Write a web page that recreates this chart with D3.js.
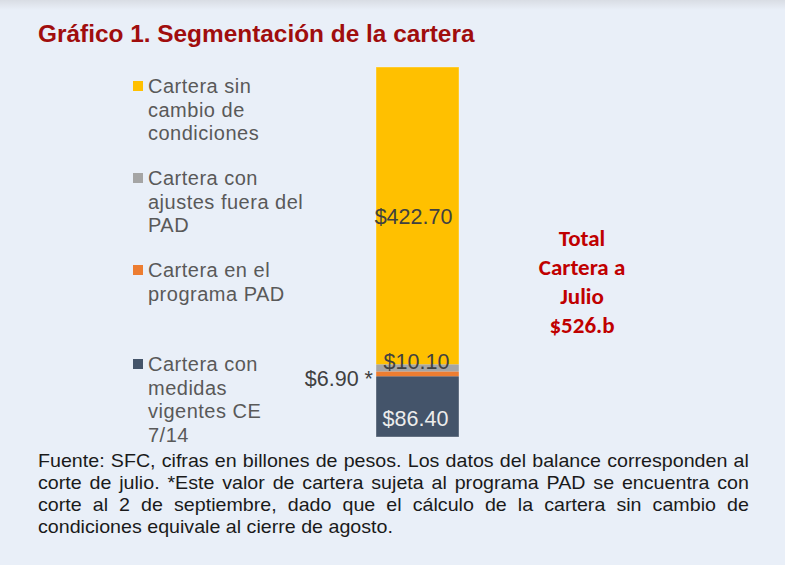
<!DOCTYPE html>
<html><head><meta charset="utf-8">
<script src="https://cdn.jsdelivr.net/npm/d3@7/dist/d3.min.js"></script>
<style>
html,body{margin:0;padding:0;background:#e9eff8;}
svg{display:block;}
</style></head>
<body>
<svg id="chart" width="785" height="565"></svg>
<script>
// ---- data ----
const categories = ["Cartera con medidas vigentes CE 7/14", "Cartera en el programa PAD", "Cartera con ajustes fuera del PAD", "Cartera sin cambio de condiciones"];
const values = [86.40, 6.90, 10.10, 422.70];
const valueLabels = ["$86.40", "$6.90 *", "$10.10", "$422.70"];
const colors = ["#44546a", "#ed7d31", "#a5a5a5", "#ffc000"];
const legendLines = [
  ["Cartera sin", "cambio de", "condiciones"],
  ["Cartera con", "ajustes fuera del", "PAD"],
  ["Cartera en el", "programa PAD"],
  ["Cartera con", "medidas", "vigentes CE", "7/14"]
];
const legendColorIdx = [3, 2, 1, 0];
const title = "Gráfico 1. Segmentación de la cartera";
const totalLines = ["Total", "Cartera a", "Julio", "$526.b"];
const footLines = [
  "Fuente: SFC, cifras en billones de pesos. Los datos del balance corresponden al",
  "corte de julio. *Este valor de cartera sujeta al programa PAD se encuentra con",
  "corte al 2 de septiembre, dado que el cálculo de la cartera sin cambio de",
  "condiciones equivale al cierre de agosto."
];

const svg = d3.select("#chart");
const defs = svg.append("defs");
const g = defs.append("linearGradient").attr("id","topg").attr("x1",0).attr("x2",0).attr("y1",0).attr("y2",1);
g.append("stop").attr("offset","0").attr("stop-color","#d9dde4");
g.append("stop").attr("offset","1").attr("stop-color","#e9eff8");
svg.append("rect").attr("width",785).attr("height",565).attr("fill","#e9eff8");
svg.append("rect").attr("width",785).attr("height",10).attr("fill","url(#topg)");

// title
svg.append("text").attr("x",38).attr("y",42)
  .attr("font-family","'Liberation Sans', Arial, sans-serif").attr("font-weight","bold")
  .attr("font-size",24.4).attr("fill","#a00d0d").text(title);

// stacked bar
const total = d3.sum(values);
const y = d3.scaleLinear().domain([0,total]).range([437,67]);
const x = d3.scaleBand().domain(["Julio"]).range([376,459]).padding(0);
let cum = 0;
const stack = values.map((v,i)=>{const d={v,i,y0:cum,y1:cum+v};cum+=v;return d;});
svg.append("g").selectAll("rect").data(stack).join("rect")
  .attr("x",x("Julio")).attr("width",x.bandwidth())
  .attr("y",d=>y(d.y1)).attr("height",d=>y(d.y0)-y(d.y1))
  .attr("fill",d=>colors[d.i]);
svg.append("rect").attr("x",x("Julio")).attr("width",x.bandwidth())
  .attr("y",y(total)).attr("height",y(0)-y(total))
  .attr("fill","none").attr("stroke","#ffffff").attr("stroke-opacity",0.35).attr("stroke-width",1);

// value labels
const lf = "'Liberation Sans', Arial, sans-serif";
const cx = x("Julio")+x.bandwidth()/2;
const lab = svg.append("g").attr("font-family",lf).attr("font-size",21.5);
lab.append("text").attr("x",cx-2).attr("y",(y(0)+y(values[0]))/2+19).attr("text-anchor","middle")
  .attr("fill","#ececec").text(valueLabels[0]);
lab.append("text").attr("x",x("Julio")-3).attr("y",(y(stack[1].y0)+y(stack[1].y1))/2+12).attr("text-anchor","end")
  .attr("fill","#404040").text(valueLabels[1]);
lab.append("text").attr("x",cx-1).attr("y",(y(stack[2].y0)+y(stack[2].y1))/2+1).attr("text-anchor","middle")
  .attr("fill","#404040").text(valueLabels[2]);
lab.append("text").attr("x",cx-4).attr("y",(y(stack[3].y0)+y(stack[3].y1))/2+8).attr("text-anchor","middle")
  .attr("fill","#404040").text(valueLabels[3]);

// legend
const legTop = [93, 185, 277, 371];
const leg = svg.append("g").attr("font-family",lf).attr("font-size",20).attr("letter-spacing",0.5).attr("fill","#595959");
legendLines.forEach((lines,k)=>{
  leg.append("rect").attr("x",133).attr("y",legTop[k]-12).attr("width",10).attr("height",10).attr("fill",colors[legendColorIdx[k]]);
  lines.forEach((t,j)=>{
    leg.append("text").attr("x",148).attr("y",legTop[k]+j*23.5).text(t);
  });
});

// total text
const tt = svg.append("g").attr("font-family","Carlito, Lato, 'Open Sans', sans-serif").attr("font-weight","bold")
  .attr("font-size",23).attr("fill","#c00000").attr("text-anchor","middle");
totalLines.forEach((t,j)=>{
  tt.append("text").attr("x",582).attr("y",246+j*29).text(t);
});

// footer: condensed, justified
const fx = 38, fw = 711, lastW = 355;
const ft = svg.append("g").attr("font-family","'Liberation Sans', Arial, sans-serif")
  .attr("font-size",18.5).attr("fill","#1a1a1a");
const ftEls = footLines.map((t,j)=> ft.append("text").attr("x",0).attr("y",0).text(t));
const nat = ftEls.map(e=>e.node().getComputedTextLength());
const s = lastW / nat[nat.length-1];
ftEls.forEach((e,j)=>{
  e.attr("transform",`translate(${fx},${467+j*22}) scale(${s},1)`);
  if (j < footLines.length-1) {
    const spaces = (footLines[j].match(/ /g)||[]).length;
    const extra = (fw/s - nat[j]) / spaces;
    if (extra >= 0) e.attr("word-spacing", extra);
    else e.attr("textLength", fw/s).attr("lengthAdjust","spacingAndGlyphs");
  }
});
</script>
</body></html>
